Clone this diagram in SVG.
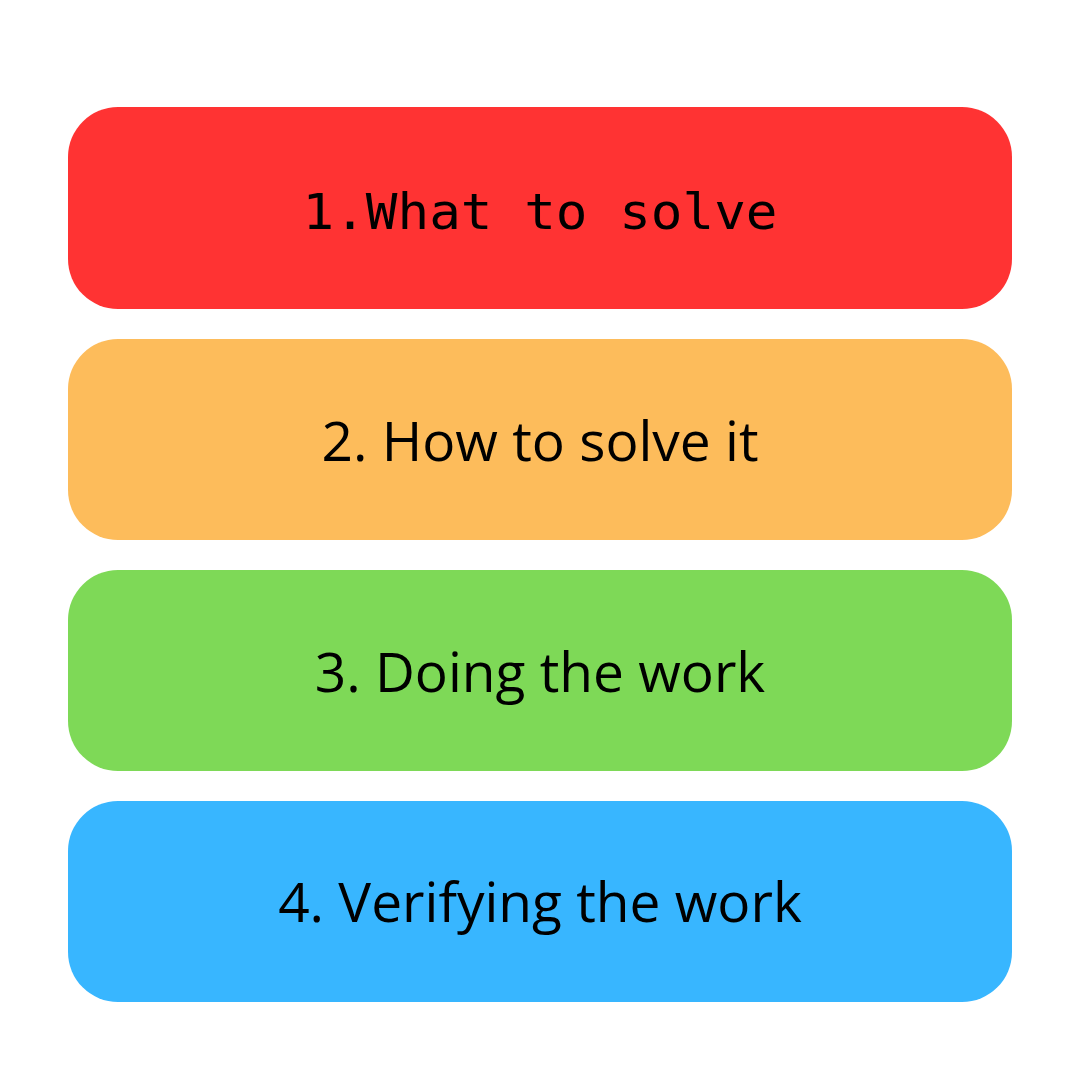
<svg xmlns="http://www.w3.org/2000/svg" width="1080" height="1080" viewBox="0 0 1080 1080">
<style>
.box{stroke:none}
.t{font-family:"Open Sans","Noto Sans",sans-serif;font-size:55px;fill:#000;text-anchor:middle}
.m{font-family:"DejaVu Sans Mono","Liberation Mono",monospace;font-size:50px;fill:#000;text-anchor:middle}
</style>
<rect width="1080" height="1080" fill="#ffffff"/>
<g id="node1"><rect class="box" x="68" y="107" width="944" height="202" rx="50" fill="#FF3333"/><text class="m" x="540" y="229" textLength="475" lengthAdjust="spacingAndGlyphs">1.What to solve</text></g>
<g id="node2"><rect class="box" x="68" y="339" width="944" height="201" rx="50" fill="#FDBC5B"/><text class="t" x="540" y="461">2. How to solve it</text></g>
<g id="node3"><rect class="box" x="68" y="570" width="944" height="201" rx="50" fill="#7ED957"/><text class="t" x="540" y="692">3. Doing the work</text></g>
<g id="node4"><rect class="box" x="68" y="801" width="944" height="201" rx="50" fill="#38B6FF"/><text class="t" x="540" y="922">4. Verifying the work</text></g>
<g id="connectors"/>
</svg>
